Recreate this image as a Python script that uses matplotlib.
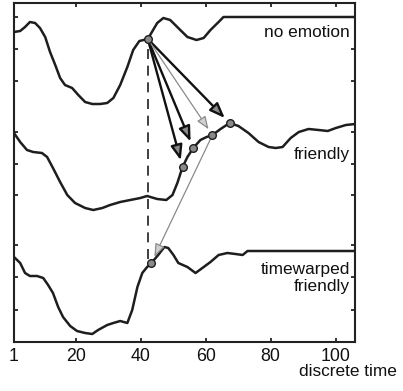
import matplotlib
matplotlib.use("Agg")
import matplotlib.pyplot as plt

plt.rcParams['font.family'] = ['Liberation Sans', 'DejaVu Sans']

# --- data ---
x_none = [1, 2.9, 4.4, 5.9, 7.5, 9.0, 10.6, 12.1, 13.7, 15.2, 16.7, 18.9, 20.8, 22.9,
          25.1, 27.5, 29.7, 31.6, 33.7, 35.9, 37.7, 39.6, 42.2, 45.1, 47.0, 49.1,
          52.2, 54.4, 57.2, 59.4, 61.5, 64.0, 65.5, 67.7, 106]
y_none = [310, 311, 315, 320, 319, 314, 305, 290, 277, 264, 257, 254, 247, 240,
          238, 238, 239, 244, 257, 275, 292, 301, 303, 319, 324, 322,
          312, 305, 302, 304, 312, 320, 325, 325, 325]

x_friendly = [1, 2.9, 5.0, 6.9, 9.6, 11.2, 13.0, 15.2, 17.4, 19.8, 22.9, 25.4, 28.2,
              30.6, 33.7, 36.8, 39.9, 42.0, 43.0, 45.1, 47.9, 49.8, 51.3, 52.9, 54.4,
              56.2, 58.4, 60.3, 62.1, 64.6, 67.4, 70.1, 73.2, 76.3, 79.4, 81.6, 83.7,
              86.2, 88.7, 91.7, 94.8, 97.6, 100.1, 103.2, 106]
y_friendly = [209, 200, 192, 190, 189, 185, 174, 160, 147, 139, 134, 132, 134,
              137, 140, 142, 144, 146, 145, 143, 142, 147, 159, 175, 185,
              194, 202, 205, 207, 213, 219, 216, 209, 200, 195, 194, 195,
              204, 210, 213, 212, 211, 214, 217, 218]

x_warped = [1, 2.9, 4.4, 5.9, 8.1, 10.0, 11.5, 13.0, 14.6, 16.1, 18.3, 20.4, 22.9,
            25.1, 26.9, 29.7, 31.6, 33.7, 35.9, 37.4, 39.0, 40.5, 42.0, 43.3, 45.4,
            47.3, 48.5, 50.1, 51.6, 54.4, 56.9, 59.0, 61.5, 64.0, 66.7, 69.2, 71.4,
            72.9, 76.0, 106]
y_warped = [85, 79, 69, 66, 66, 64, 57, 49, 35, 25, 16, 11, 9,
            8, 12, 17, 19, 21, 19, 32, 55, 69, 75, 79, 87,
            95, 94, 87, 79, 75, 69, 74, 80, 87, 89, 88, 87,
            91, 91, 91]

src_point = (42.2, 303)
friendly_marks_x = [52.9, 56.2, 62.1, 67.4]
friendly_marks_y = [175, 194, 207, 219]
black_targets = [0, 1, 3]
gray_target = 2
warped_mark = (43.3, 79)

xticks = [1, 20, 40, 60, 80, 100]
yticks = [32, 65, 97, 147, 178, 210, 261, 293, 325]

labels = ["no emotion", "friendly", "timewarped\nfriendly"]

# --- figure ---
fig = plt.figure(figsize=(4.03, 3.91), dpi=100)
ax = fig.add_axes([14/403, 1 - 342/391, (355 - 14)/403, (342 - 3)/391])

for xs, ys in [(x_none, y_none), (x_friendly, y_friendly), (x_warped, y_warped)]:
    ax.plot(xs, ys, color='#1e1e1e', lw=1.8, solid_joinstyle='round',
            solid_capstyle='round', zorder=2)

# dashed vertical
ax.plot([src_point[0], src_point[0]], [src_point[1] - 10, warped_mark[1] + 3],
        color='#1e1e1e', lw=1.2, ls=(0, (6, 4)), zorder=1)

head = '-|>,head_length=0.65,head_width=0.25'
# black arrows
for i in black_targets:
    ax.annotate("", xy=(friendly_marks_x[i], friendly_marks_y[i]), xytext=src_point,
                arrowprops=dict(arrowstyle=head, mutation_scale=14, fc='#8a8a8a', ec='#111111',
                                lw=1.7, shrinkA=0, shrinkB=5), zorder=3)

# gray arrows
ax.annotate("", xy=(friendly_marks_x[gray_target], friendly_marks_y[gray_target]), xytext=src_point,
            arrowprops=dict(arrowstyle=head, mutation_scale=12, fc='#d0d0d0', ec='#8a8a8a',
                            lw=0.9, shrinkA=0, shrinkB=5), zorder=3)
ax.annotate("", xy=warped_mark, xytext=(friendly_marks_x[gray_target], friendly_marks_y[gray_target]),
            arrowprops=dict(arrowstyle=head, mutation_scale=12, fc='#d0d0d0', ec='#8a8a8a',
                            lw=0.9, shrinkA=0, shrinkB=5), zorder=3)

# markers
mk = dict(marker='o', ms=5.5, mfc='#8a8a8a', mec='#1e1e1e', mew=1.0, ls='none', zorder=4)
ax.plot([src_point[0]], [src_point[1]], **mk)
ax.plot(friendly_marks_x, friendly_marks_y, **mk)
ax.plot([warped_mark[0]], [warped_mark[1]], **mk)

# labels
ax.text(104.5, 309, labels[0], ha='right', va='center', fontsize=12.4, color='#111111')
ax.text(104.5, 187, labels[1], ha='right', va='center', fontsize=12.4, color='#111111')
ax.text(104.5, 64, labels[2], ha='right', va='center', fontsize=12.4, color='#111111',
        linespacing=1.15)

ax.set_xlim(1, 106)
ax.set_ylim(0, 339)
ax.set_xticks(xticks)
ax.set_xticklabels([str(t) for t in xticks], fontsize=12.8)
ax.set_yticks(yticks)
ax.set_yticklabels([])
ax.tick_params(direction='in', length=3, width=1.2, top=True, right=True, pad=4,
               colors='#111111')
for s in ax.spines.values():
    s.set_linewidth(1.5)
    s.set_color('#222222')

fig.text(397/403, 1 - 372/391, "discrete time", ha='right', va='center',
         fontsize=12.4, color='#111111')

fig.savefig("out.png", dpi=100)
